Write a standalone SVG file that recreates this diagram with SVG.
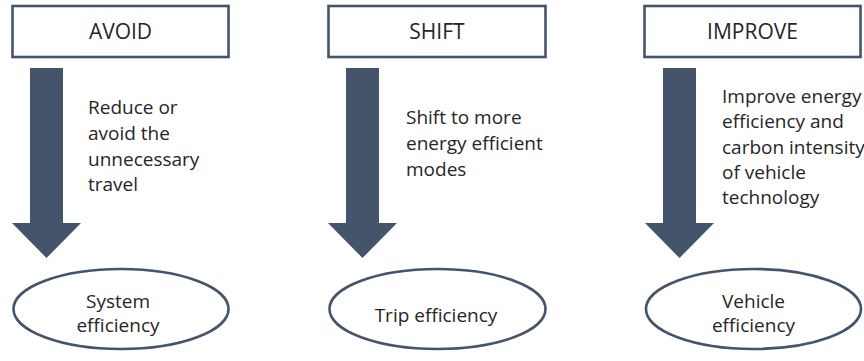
<svg xmlns="http://www.w3.org/2000/svg" width="864" height="361" viewBox="0 0 864 361">
  <style>
    .bg { fill: #ffffff; }
    .box { fill: #ffffff; stroke: #44546a; stroke-width: 2.6; }
    .oval { fill: #ffffff; stroke: #44546a; stroke-width: 2.6; }
    .arrow { fill: #44546a; }
    .title { font-family: "Open Sans", "Noto Sans", sans-serif; font-size: 21px; fill: #262626; text-anchor: middle; }
    .note { font-family: "Open Sans", "Noto Sans", sans-serif; font-size: 19px; fill: #262626; }
    .result { font-family: "Open Sans", "Noto Sans", sans-serif; font-size: 19px; fill: #262626; text-anchor: middle; }
  </style>
  <defs>
    <!-- block arrow pointing down, local origin at the column's left edge -->
    <path id="down-arrow" d="M19,68 H52 V223 H70 L35.5,258 L1,223 H19 Z"/>
  </defs>

  <rect class="bg" x="0" y="0" width="864" height="361"/>

  <!-- downward arrows linking each heading to its outcome -->
  <g id="connectors">
    <use href="#down-arrow" class="arrow" transform="translate(11,0)"/>
    <use href="#down-arrow" class="arrow" transform="translate(327,0)"/>
    <use href="#down-arrow" class="arrow" transform="translate(644,0)"/>
  </g>

  <!-- AVOID column -->
  <g id="avoid">
    <rect class="box" x="12.5" y="6" width="216" height="51"/>
    <text class="title" x="120.5" y="39">AVOID</text>
  </g>
  <g id="avoid-note">
    <text class="note" x="88" y="114">Reduce or</text>
    <text class="note" x="88" y="140">avoid the</text>
    <text class="note" x="88" y="165.5">unnecessary</text>
    <text class="note" x="88" y="191">travel</text>
  </g>
  <g id="system-efficiency">
    <ellipse class="oval" cx="121" cy="309" rx="107.5" ry="40"/>
    <text class="result" x="118" y="308">System</text>
    <text class="result" x="118" y="332">efficiency</text>
  </g>

  <!-- SHIFT column -->
  <g id="shift">
    <rect class="box" x="328.5" y="6" width="217" height="51"/>
    <text class="title" x="437" y="39">SHIFT</text>
  </g>
  <g id="shift-note">
    <text class="note" x="406" y="124">Shift to more</text>
    <text class="note" x="406" y="150">energy efficient</text>
    <text class="note" x="406" y="176">modes</text>
  </g>
  <g id="trip-efficiency">
    <ellipse class="oval" cx="437.5" cy="309" rx="108" ry="40"/>
    <text class="result" x="436" y="322">Trip efficiency</text>
  </g>

  <!-- IMPROVE column -->
  <g id="improve">
    <rect class="box" x="644.5" y="6" width="216" height="51"/>
    <text class="title" x="752.5" y="39">IMPROVE</text>
  </g>
  <g id="improve-note">
    <text class="note" x="722" y="103">Improve energy</text>
    <text class="note" x="722" y="128">efficiency and</text>
    <text class="note" x="722" y="153.5">carbon intensity</text>
    <text class="note" x="722" y="179">of vehicle</text>
    <text class="note" x="722" y="204">technology</text>
  </g>
  <g id="vehicle-efficiency">
    <ellipse class="oval" cx="753.5" cy="309" rx="107.5" ry="40"/>
    <text class="result" x="753.5" y="308">Vehicle</text>
    <text class="result" x="753.5" y="332">efficiency</text>
  </g>
</svg>
